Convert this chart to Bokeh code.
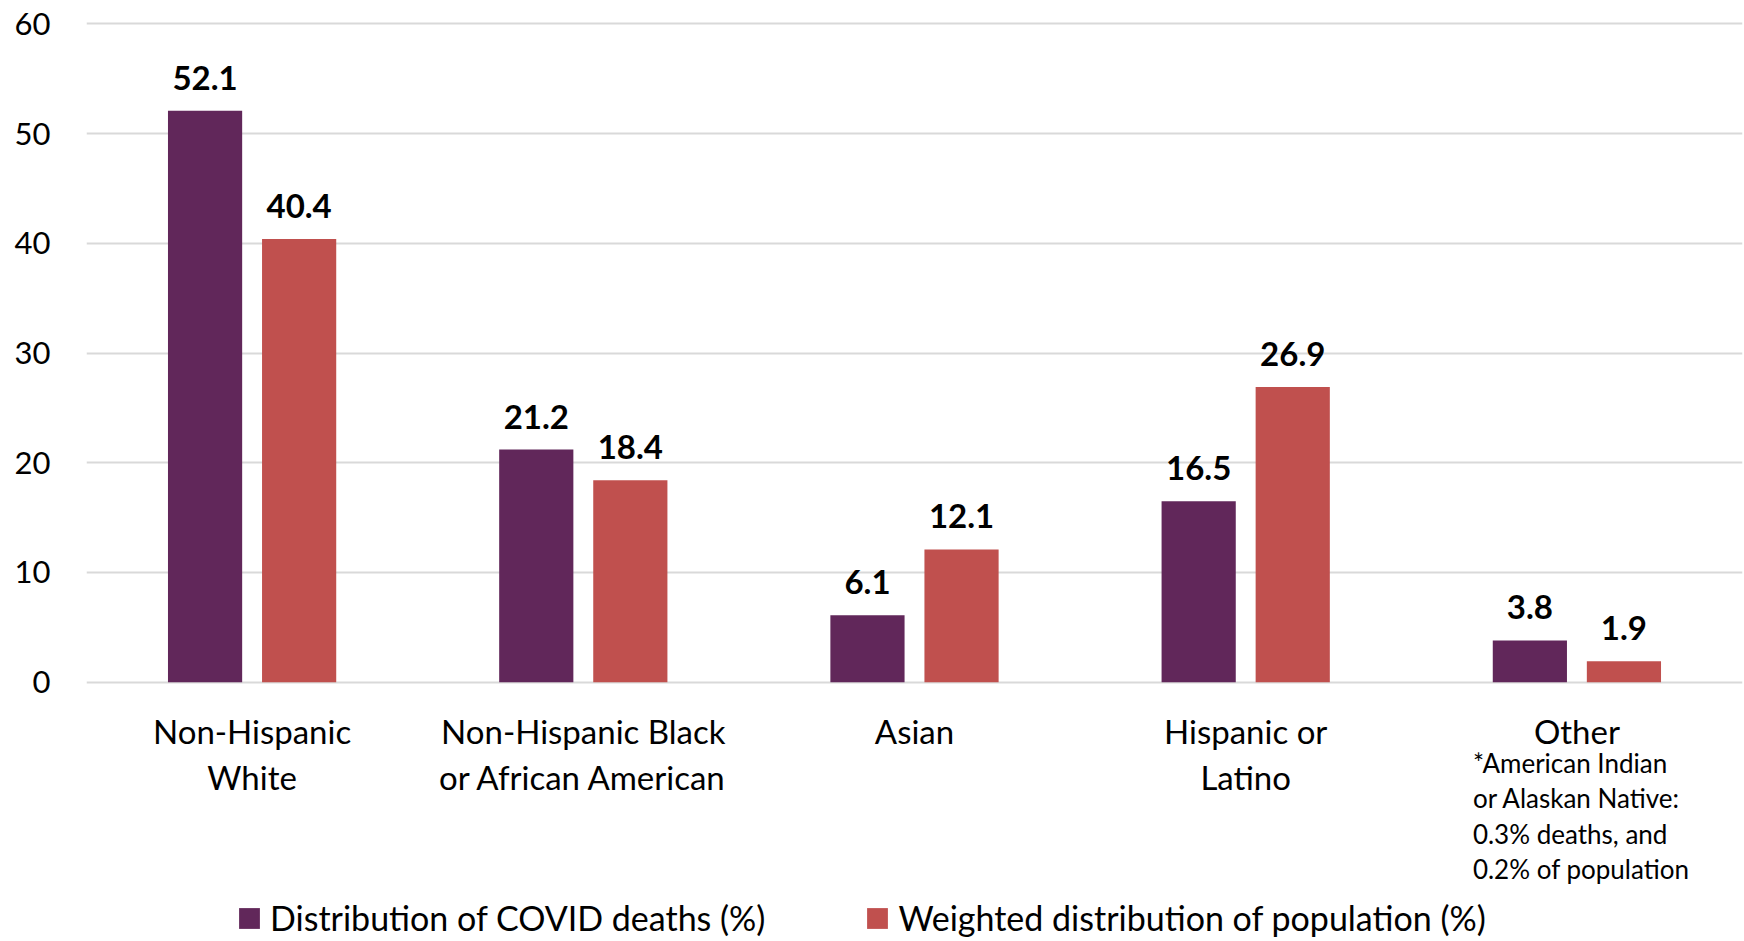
from bokeh.plotting import figure
from bokeh.models import (Range1d, FixedTicker, Legend, LegendItem,
                          ColumnDataSource)
from bokeh.transform import dodge
from bokeh.core.properties import value
from bokeh.embed import file_html
from bokeh.resources import INLINE

# ---- data ----
categories = ["Non-Hispanic\nWhite", "Non-Hispanic Black\nor African American",
              "Asian", "Hispanic or\nLatino", "Other"]
deaths = [52.1, 21.2, 6.1, 16.5, 3.8]
population = [40.4, 18.4, 12.1, 26.9, 1.9]
y_ticks = [0, 10, 20, 30, 40, 50, 60]
series_names = ["Distribution of COVID deaths (%)",
                "Weighted distribution of population (%)"]
footnote = "*American Indian\nor Alaskan Native:\n0.3% deaths, and\n0.2% of population"

# ---- style ----
PURPLE = "#61275A"
RED = "#C0504E"
GRID = "#D9D9D9"
FONT = "Lato"
OFF = 0.142
BAR_W = 0.224

xpos = [i + 0.5 for i in range(len(categories))]
line1 = [c.split("\n")[0] for c in categories]
line2 = [c.split("\n")[1] if "\n" in c else "" for c in categories]
source = ColumnDataSource(dict(
    x=xpos, deaths=deaths, population=population,
    deaths_lbl=[f"{v:.1f}" for v in deaths],
    pop_lbl=[f"{v:.1f}" for v in population],
    line1=line1, line2=line2,
))

p = figure(width=1744, height=941, output_backend="svg", toolbar_location=None,
           x_range=Range1d(0, 5), y_range=Range1d(-23.64, 60.5),
           min_border_left=86, min_border_right=2, min_border_top=18,
           min_border_bottom=0)
p.outline_line_color = None
p.background_fill_color = "white"
p.border_fill_color = "white"

r1 = p.vbar(x=dodge("x", -OFF, range=p.x_range), top="deaths", bottom=0,
            width=BAR_W, source=source, fill_color=PURPLE, line_color=None)
r2 = p.vbar(x=dodge("x", OFF, range=p.x_range), top="population", bottom=0,
            width=BAR_W, source=source, fill_color=RED, line_color=None)

for col, lbl, off in (("deaths", "deaths_lbl", -OFF), ("population", "pop_lbl", OFF)):
    p.text(x=dodge("x", off, range=p.x_range), y=col, text=lbl, source=source,
           text_font=value(FONT), text_font_style="bold", text_font_size="33px",
           text_align="center", text_baseline="alphabetic", y_offset=-33,
           text_color="black")

# category labels (two lines) under the zero line
for col, dy in (("line1", 49), ("line2", 95)):
    p.text(x="x", y=0, text=col, source=source, text_font=value(FONT),
           text_font_size="33px", text_align="center",
           text_baseline="alphabetic", y_offset=dy, text_color="black")

# footnote under "Other"
for i, ln in enumerate(footnote.split("\n")):
    p.text(x=[xpos[-1]], y=[0], text=[ln], text_font=value(FONT),
           text_font_size="26px", text_align="left", text_baseline="alphabetic",
           x_offset=-104, y_offset=81 + 35.3 * i, text_color="black")

# grid
p.xgrid.visible = False
p.ygrid.ticker = FixedTicker(ticks=y_ticks)
p.ygrid.grid_line_color = GRID
p.ygrid.grid_line_width = 2

# y axis
p.yaxis.ticker = FixedTicker(ticks=y_ticks)
p.yaxis.axis_line_color = None
p.yaxis.major_tick_line_color = None
p.yaxis.minor_tick_line_color = None
p.yaxis.major_label_text_font = FONT
p.yaxis.major_label_text_font_size = "31px"
p.yaxis.major_label_text_color = "black"
p.yaxis.major_label_standoff = 30

# x axis: labels are drawn as text under the zero line
p.xaxis.visible = False

legend = Legend(items=[LegendItem(label=series_names[0], renderers=[r1]),
                       LegendItem(label=series_names[1], renderers=[r2])],
                orientation="horizontal", location=(150, 3),
                label_text_font=FONT, label_text_font_size="34px",
                label_text_color="black",
                glyph_width=26, glyph_height=26, label_standoff=8, spacing=99,
                label_height=26, padding=0, margin=0,
                border_line_color=None, background_fill_alpha=0)
p.add_layout(legend, "center")

open("out.html", "w").write(file_html(p, INLINE))
